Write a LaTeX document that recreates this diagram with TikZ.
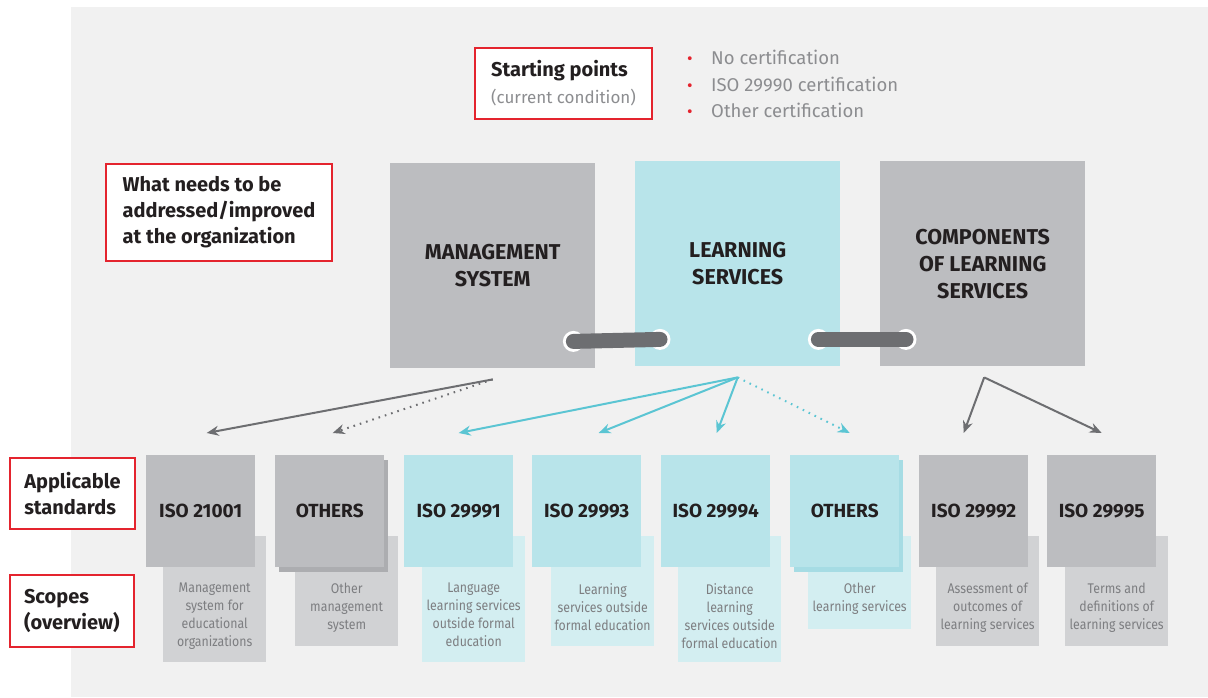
\documentclass[tikz,border=0pt]{standalone}
\usepackage{fontspec}
\setmainfont{Fira Sans}
\newfontfamily\scopefont[FakeStretch=0.88]{Fira Sans}
\usepackage{tikz}
\usetikzlibrary{
  arrows.meta,
  positioning,
  shadows
}
\definecolor{panelbg}{RGB}{241,241,241}
\definecolor{boxgray}{RGB}{188,189,192}
\definecolor{boxcyan}{RGB}{184,228,234}
\definecolor{scopegray}{RGB}{209,210,212}
\definecolor{scopecyan}{RGB}{211,238,241}
\definecolor{stackgray}{RGB}{172,173,176}
\definecolor{stackcyan}{RGB}{166,220,228}
\definecolor{pillgray}{RGB}{109,110,113}
\definecolor{arrgray}{RGB}{109,110,113}
\definecolor{arrcyan}{RGB}{91,197,211}
\definecolor{xred}{RGB}{228,36,46}
\definecolor{xink}{RGB}{35,31,32}
\definecolor{txtgray}{RGB}{140,141,144}
\definecolor{scopeink}{RGB}{125,126,129}

\newcommand{\reddot}{\makebox[24pt][l]{\textcolor{xred}{\fontsize{17}{17}\selectfont\textbullet}}}

\begin{document}
\begin{tikzpicture}[x=1pt, y=-1pt,
  redlabel/.style={draw=xred, line width=2pt, fill=white, anchor=north west,
                   inner xsep=14pt, inner ysep=0pt, align=left, text=xink,
                   font=\bfseries\fontsize{20}{26}\selectfont},
  bigbox/.style={minimum width=205pt, minimum height=205pt, anchor=north west,
                 inner sep=0pt, align=center, text=xink,
                 font=\bfseries\fontsize{21.5}{27}\selectfont},
  stdbox/.style={fill=boxgray, minimum width=109pt, minimum height=112pt,
                 anchor=north west, inner sep=0pt, text=xink,
                 font=\bfseries\fontsize{19}{20}\selectfont},
  stdcyan/.style={stdbox, fill=boxcyan},
  stacked/.style={copy shadow={shadow xshift=4pt, shadow yshift=-5pt, fill=#1, draw=none}},
  scopebox/.style={fill=scopegray, minimum width=103pt, anchor=north west, inner sep=0pt},
  scopecy/.style={scopebox, fill=scopecyan},
  scopetxt/.style={anchor=north, inner sep=0pt, align=center, text=scopeink,
                   font=\scopefont\fontsize{14}{18}\selectfont},
  pill/.style={line width=15pt, line cap=round, draw=pillgray},
  grayarr/.style={-{Stealth[length=12pt, width=10pt]}, line width=2pt, draw=arrgray},
  cyanarr/.style={-{Stealth[length=12pt, width=10pt]}, line width=2pt, draw=arrcyan},
  dots/.style={dash pattern=on 1.6pt off 5pt}
]
  % page and panel
  \fill[white] (0,0) rectangle (1208,697);
  \useasboundingbox (0,0) rectangle (1208,697);
  \fill[panelbg] (71,7) rectangle (1208,697);

  % starting points
  \node[redlabel, minimum width=177pt, minimum height=71pt, inner xsep=15pt,
        font=\bfseries\fontsize{20}{27}\selectfont]
    (start) at (474,47) {Starting points\\{\mdseries\fontsize{17}{27}\selectfont\color{txtgray}(current condition)}};
  \node[anchor=west, inner sep=0pt, align=left, text=txtgray,
        font=\fontsize{18.5}{26.5}\selectfont] (startlist) at (687,84)
    {\reddot No certification\\
     \reddot ISO 29990 certification\\
     \reddot Other certification};

  % row labels
  \node[redlabel, minimum width=226pt, minimum height=97pt]
    (needs) at (105,163) {What needs to be\\addressed/improved\\at the organization};
  \node[redlabel, minimum width=125pt, minimum height=71pt]
    (applic) at (9,457) {Applicable\\standards};
  \node[redlabel, minimum width=123pt, minimum height=72pt]
    (scopes) at (9,574) {Scopes\\(overview)};

  % the three areas
  \node[bigbox, fill=boxgray] (mgmt)  at (390,163) {MANAGEMENT\\SYSTEM};
  \node[bigbox, fill=boxcyan] (learn) at (635,161) {LEARNING\\SERVICES};
  \node[bigbox, fill=boxgray] (comp)  at (880,161) {COMPONENTS\\OF LEARNING\\SERVICES};

  % links between the areas
  \coordinate (pa) at ([shift={(-22,-27)}]mgmt.south east);
  \coordinate (pb) at ([shift={(25,-27)}]learn.south west);
  \coordinate (pc) at ([shift={(-22,-27)}]learn.south east);
  \coordinate (pd) at ([shift={(26,-27)}]comp.south west);
  \foreach \p in {pa,pb,pc,pd} \fill[white] (\p) circle (10.5);
  \draw[pill] (pa) -- (pb);
  \draw[pill] (pc) -- (pd);

  % scope boxes (behind the standards)
  \node[scopebox, minimum height=126pt] (sc21001)  at (163,536) {};
  \node[scopebox, minimum height=110pt] (scothm)   at (295,536) {};
  \node[scopecy,  minimum height=126pt] (sc29991)  at (422,536) {};
  \node[scopecy,  minimum height=110pt] (sc29993)  at (551,536) {};
  \node[scopecy,  minimum height=126pt] (sc29994)  at (678,536) {};
  \node[scopecy,  minimum height=93pt]  (scothl)   at (808,536) {};
  \node[scopebox, minimum height=110pt] (sc29992)  at (936,536) {};
  \node[scopebox, minimum height=110pt] (sc29995)  at (1065,536) {};

  % applicable standards
  \node[stdbox]                     (iso21001) at (146,455) {ISO 21001};
  \node[stdbox, stacked=stackgray]  (othmgmt)  at (275,455) {OTHERS};
  \node[stdcyan]                    (iso29991) at (404,455) {ISO 29991};
  \node[stdcyan]                    (iso29993) at (532,455) {ISO 29993};
  \node[stdcyan]                    (iso29994) at (661,455) {ISO 29994};
  \node[stdcyan, stacked=stackcyan] (othlearn) at (790,455) {OTHERS};
  \node[stdbox]                     (iso29992) at (919,455) {ISO 29992};
  \node[stdbox]                     (iso29995) at (1047,455) {ISO 29995};

  % scope texts
  \node[scopetxt] (tx21001) at ([yshift=-47]sc21001.north) {Management\\system for\\educational\\organizations};
  \node[scopetxt] (txothm)  at ([yshift=-47]scothm.north)  {Other\\management\\system};
  \node[scopetxt] (tx29991) at ([yshift=-47]sc29991.north) {Language\\learning services\\outside formal\\education};
  \node[scopetxt] (tx29993) at ([yshift=-47]sc29993.north) {Learning\\services outside\\formal education};
  \node[scopetxt] (tx29994) at ([yshift=-47]sc29994.north) {Distance\\learning\\services outside\\formal education};
  \node[scopetxt] (txothl)  at ([yshift=-47]scothl.north)  {Other\\learning services};
  \node[scopetxt] (tx29992) at ([yshift=-47]sc29992.north) {Assessment of\\outcomes of\\learning services};
  \node[scopetxt] (tx29995) at ([yshift=-47]sc29995.north) {Terms and\\definitions of\\learning services};

  % arrows down to the standards
  \coordinate (msrc) at ([yshift=-11]mgmt.south);
  \coordinate (lsrc) at ([yshift=-11]learn.south);
  \coordinate (csrc) at ([shift={(1.5,11)}]comp.south);

  \draw[grayarr]       (msrc) -- ([shift={(6,-22)}]iso21001.north);
  \draw[grayarr, dots] (msrc) -- ([shift={(3,-22)}]othmgmt.north);
  \draw[cyanarr]       (lsrc) -- ([shift={(0,-22)}]iso29991.north);
  \draw[cyanarr]       (lsrc) -- ([shift={(12,-22)}]iso29993.north);
  \draw[cyanarr]       (lsrc) -- ([shift={(1,-22)}]iso29994.north);
  \draw[cyanarr, dots] (lsrc) -- ([shift={(5,-22)}]othlearn.north);
  \draw[grayarr]       (csrc) -- ([shift={(-10,-22)}]iso29992.north);
  \draw[grayarr]       (csrc) -- ([shift={(0,-22)}]iso29995.north);
\end{tikzpicture}
\end{document}
